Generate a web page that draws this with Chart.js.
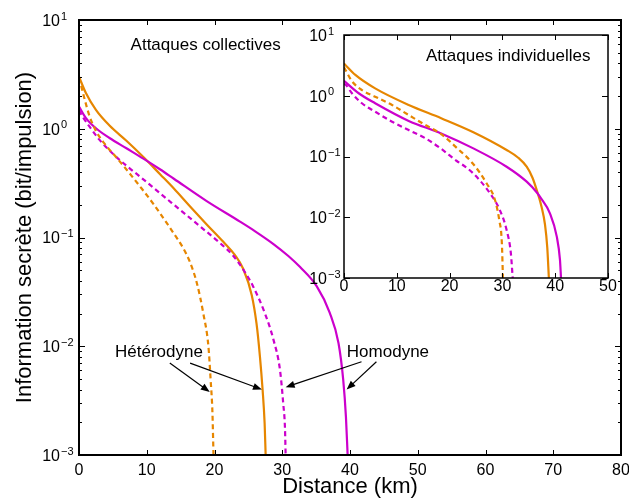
<!DOCTYPE html>
<html>
<head>
<meta charset="utf-8">
<script src="https://cdn.jsdelivr.net/npm/chart.js@4/dist/chart.umd.min.js"></script>
<style>
  html, body { margin: 0; padding: 0; background: #fff; }
  #wrap { position: relative; width: 629px; height: 501px; }
  #main { position: absolute; left: 0; top: 0; }
  #inset { position: absolute; left: 300px; top: 10px; }
</style>
</head>
<body>
<div id="wrap">
  <canvas id="main" width="629" height="501"></canvas>
  <canvas id="inset" width="320" height="290"></canvas>
</div>
<script>
// --- collective attacks (main plot), distance in km / secret info in bit per pulse
const collHetSolidX = [0, 1, 2.5, 4.5, 7, 9.5, 12, 14, 16.4, 18.85, 21.3, 23, 24.25, 25.5, 26.2, 26.7, 27.1, 27.4, 27.55];
const collHetSolidY = [3.01, 2.14, 1.49, 1.07, 0.776, 0.55, 0.38, 0.282, 0.193, 0.132, 0.0912, 0.0692, 0.0513, 0.0295, 0.0162, 0.00813, 0.00398, 0.00195, 0.001];
const collHetDashX = [0, 0.3, 0.79, 1.53, 2.5, 3.74, 5.46, 6.94, 9.25, 10.97, 12.45, 13.9, 15.4, 16.4, 17.4, 18.35, 19.1, 19.43, 19.7, 19.85];
const collHetDashY = [2.95, 2.51, 1.91, 1.32, 0.955, 0.733, 0.55, 0.427, 0.282, 0.204, 0.151, 0.111, 0.0794, 0.0589, 0.038, 0.02, 0.01, 0.0049, 0.0024, 0.001];
const collHomSolidX = [0, 1, 2.5, 4.5, 7, 9.5, 12, 14, 18.85, 23.76, 26, 28.7, 30.9, 32.6, 35.1, 37, 38.3, 39.0, 39.4, 39.65];
const collHomSolidY = [1.6, 1.26, 1.01, 0.822, 0.661, 0.531, 0.422, 0.347, 0.216, 0.14, 0.114, 0.0871, 0.0676, 0.0537, 0.0355, 0.0204, 0.0107, 0.0049, 0.00224, 0.001];
const collHomDashX = [0, 0.5, 1.53, 3, 5, 7, 9, 12, 14.9, 17.9, 20.8, 22.8, 24.5, 25.7, 27.45, 28.7, 29.67, 30.15, 30.4, 30.5];
const collHomDashY = [1.48, 1.3, 1.05, 0.794, 0.589, 0.457, 0.363, 0.254, 0.18, 0.126, 0.0891, 0.0676, 0.0479, 0.0355, 0.02, 0.0115, 0.00603, 0.00295, 0.00178, 0.001];

// --- individual attacks (inset)
const indHetSolidX = [0, 2.15, 5.9, 12.25, 18.4, 24.5, 30.8, 33, 34.6, 35.7, 36.6, 37.4, 38.07, 38.5, 38.8];
const indHetSolidY = [3.39, 2.2, 1.32, 0.705, 0.427, 0.251, 0.128, 0.0955, 0.0679, 0.0447, 0.0263, 0.0151, 0.00759, 0.00316, 0.001];
const indHetDashX = [0, 0.38, 1.5, 3.4, 5.9, 9.1, 12.25, 15.4, 18.4, 21.5, 24.35, 27.0, 28.6, 29.4, 29.9, 30.1];
const indHetDashY = [2.95, 2.57, 1.74, 1.24, 0.966, 0.705, 0.482, 0.33, 0.234, 0.135, 0.0776, 0.0362, 0.0192, 0.009, 0.00372, 0.001];
const indHomSolidX = [0, 2.78, 5.9, 12.25, 18.4, 24.5, 30.8, 34.6, 36.6, 37.1, 39.0, 40.3, 40.9, 41.1];
const indHomSolidY = [1.76, 1.1, 0.752, 0.385, 0.24, 0.136, 0.0679, 0.0385, 0.0251, 0.0218, 0.0116, 0.00479, 0.002, 0.001];
const indHomDashX = [0, 0.38, 1.5, 3.4, 5.9, 9.1, 12.25, 15.4, 18.3, 21.3, 23.0, 24.5, 27.65, 29.5, 30.8, 31.6, 31.95];
const indHomDashY = [1.58, 1.5, 1.1, 0.752, 0.547, 0.374, 0.273, 0.2, 0.136, 0.0851, 0.0676, 0.0525, 0.0248, 0.0132, 0.00617, 0.00257, 0.001];

// ticks
const mainXTicks = [0, 10, 20, 30, 40, 50, 60, 70, 80];
const insetXTicks = [0, 10, 20, 30, 40, 50];
const yDecades = [-3, -2, -1, 0, 1];

const ORANGE = 'rgb(230,134,0)';
const MAGENTA = 'rgb(204,0,204)';
const FONT = '"Liberation Sans", Arial, Helvetica, sans-serif';

const pts = (xs, ys) => xs.map((x, i) => ({ x: x, y: ys[i] }));

function series(xs, ys, color, dashed) {
  return {
    data: pts(xs, ys),
    borderColor: color,
    borderWidth: 2.2,
    borderDash: dashed ? [5, 3.5] : [],
    pointRadius: 0,
    fill: false,
    cubicInterpolationMode: 'monotone'
  };
}

function drawPow(ctx, e, xr, yc, size) {
  ctx.font = size + 'px ' + FONT;
  ctx.textAlign = 'right';
  ctx.textBaseline = 'middle';
  ctx.fillText('10', xr, yc);
  ctx.font = Math.round(size * 0.68) + 'px ' + FONT;
  ctx.textAlign = 'left';
  ctx.fillText(e < 0 ? '\u2212' + (-e) : String(e), xr + 1, yc - size * 0.3);
}

function arrow(ctx, x1, y1, x2, y2) {
  const ang = Math.atan2(y2 - y1, x2 - x1);
  const L = 9, W = 3.5;
  ctx.beginPath();
  ctx.moveTo(x1, y1);
  ctx.lineTo(x2 - L * Math.cos(ang) * 0.8, y2 - L * Math.sin(ang) * 0.8);
  ctx.stroke();
  ctx.beginPath();
  ctx.moveTo(x2, y2);
  ctx.lineTo(x2 - L * Math.cos(ang) + W * Math.sin(ang), y2 - L * Math.sin(ang) - W * Math.cos(ang));
  ctx.lineTo(x2 - L * Math.cos(ang) - W * Math.sin(ang), y2 - L * Math.sin(ang) + W * Math.cos(ang));
  ctx.closePath();
  ctx.fill();
}

// box, inward ticks and tick labels, drawn from the scales
const frame = {
  id: 'frame',
  beforeDraw(chart, args, o) {
    const { ctx, chartArea: a } = chart;
    ctx.save();
    ctx.fillStyle = '#fff';
    ctx.fillRect(a.left, a.top, a.right - a.left, a.bottom - a.top);
    ctx.restore();
  },
  afterDraw(chart, args, o) {
    const { ctx, chartArea: a, scales: { x, y } } = chart;
    ctx.save();
    ctx.strokeStyle = '#000';
    ctx.fillStyle = '#000';
    ctx.lineWidth = 1;
    ctx.beginPath();
    o.xTicks.forEach(v => {
      const px = Math.round(x.getPixelForValue(v)) + 0.5;
      ctx.moveTo(px, a.bottom); ctx.lineTo(px, a.bottom - o.major);
      ctx.moveTo(px, a.top); ctx.lineTo(px, a.top + o.major);
    });
    yDecades.forEach(d => {
      const ms = d < 1 && o.minor ? [1, 2, 3, 4, 5, 6, 7, 8, 9] : [1];
      ms.forEach(m => {
        const py = Math.round(y.getPixelForValue(m * Math.pow(10, d))) + 0.5;
        const len = m === 1 ? o.major + 1 : o.minor;
        ctx.moveTo(a.left, py); ctx.lineTo(a.left + len, py);
        ctx.moveTo(a.right, py); ctx.lineTo(a.right - len, py);
      });
    });
    ctx.stroke();
    ctx.lineWidth = o.lw;
    ctx.strokeRect(a.left, a.top, a.right - a.left, a.bottom - a.top);

    // tick labels
    ctx.font = o.size + 'px ' + FONT;
    ctx.textAlign = 'center';
    ctx.textBaseline = 'middle';
    o.xTicks.forEach(v => {
      ctx.fillText(String(v), x.getPixelForValue(v), a.bottom + o.xLabelGap);
    });
    yDecades.forEach(d => {
      drawPow(ctx, d, a.left - o.yLabelGap, y.getPixelForValue(Math.pow(10, d)) + 1.5, o.size);
    });

    // panel caption
    ctx.font = '17px ' + FONT;
    ctx.textAlign = 'center';
    ctx.fillText(o.caption.text, x.getPixelForValue(o.caption.x), y.getPixelForValue(o.caption.y));
    ctx.restore();
  }
};

// axis titles and arrow annotations of the main plot
const notes = [
  { text: 'Hétérodyne', x: 11.8, y: 0.0088 },
  { text: 'Homodyne', x: 45.6, y: 0.0088 }
];
const arrows = [
  { from: [13.4, 0.0070], to: [19.3, 0.0038] },
  { from: [16.4, 0.0070], to: [27.0, 0.0040] },
  { from: [41.7, 0.0072], to: [30.5, 0.0042] },
  { from: [43.9, 0.0072], to: [39.5, 0.0040] }
];

const extras = {
  id: 'extras',
  afterDraw(chart) {
    const { ctx, chartArea: a, scales: { x, y } } = chart;
    ctx.save();
    ctx.fillStyle = '#000';
    ctx.strokeStyle = '#000';
    ctx.font = '17px ' + FONT;
    ctx.textAlign = 'center';
    ctx.textBaseline = 'middle';
    notes.forEach(n => ctx.fillText(n.text, x.getPixelForValue(n.x), y.getPixelForValue(n.y)));
    ctx.lineWidth = 1.2;
    arrows.forEach(ar => {
      arrow(ctx,
        x.getPixelForValue(ar.from[0]), y.getPixelForValue(ar.from[1]),
        x.getPixelForValue(ar.to[0]), y.getPixelForValue(ar.to[1]));
    });
    ctx.font = '22px ' + FONT;
    ctx.fillText('Distance (km)', (a.left + a.right) / 2, 487);
    ctx.translate(25, (a.top + a.bottom) / 2);
    ctx.rotate(-Math.PI / 2);
    ctx.fillText('Information secrète (bit/impulsion)', 0, 0);
    ctx.restore();
  }
};

const hiddenAxis = {
  ticks: { display: false },
  grid: { display: false },
  border: { display: false }
};

new Chart(document.getElementById('main'), {
  type: 'line',
  data: {
    datasets: [
      series(collHetDashX, collHetDashY, ORANGE, true),
      series(collHomDashX, collHomDashY, MAGENTA, true),
      series(collHomSolidX, collHomSolidY, MAGENTA, false),
      series(collHetSolidX, collHetSolidY, ORANGE, false)
    ]
  },
  options: {
    responsive: false,
    animation: false,
    devicePixelRatio: 1,
    layout: { padding: { top: 20, right: 8, left: 0, bottom: 0 } },
    scales: {
      x: { type: 'linear', min: 0, max: 80, ...hiddenAxis, afterFit(s) { s.height = 46; } },
      y: { type: 'logarithmic', min: 0.001, max: 10, ...hiddenAxis, afterFit(s) { s.width = 79; } }
    },
    plugins: {
      legend: { display: false },
      tooltip: { enabled: false },
      frame: {
        xTicks: mainXTicks, major: 5, minor: 3, lw: 2, size: 16,
        xLabelGap: 16, yLabelGap: 19,
        caption: { text: 'Attaques collectives', x: 18.7, y: 5.9 }
      }
    }
  },
  plugins: [frame, extras]
});

new Chart(document.getElementById('inset'), {
  type: 'line',
  data: {
    datasets: [
      series(indHetDashX, indHetDashY, ORANGE, true),
      series(indHomDashX, indHomDashY, MAGENTA, true),
      series(indHomSolidX, indHomSolidY, MAGENTA, false),
      series(indHetSolidX, indHetSolidY, ORANGE, false)
    ]
  },
  options: {
    responsive: false,
    animation: false,
    devicePixelRatio: 1,
    layout: { padding: { top: 25, right: 12, left: 0, bottom: 0 } },
    scales: {
      x: { type: 'linear', min: 0, max: 50, ...hiddenAxis, afterFit(s) { s.height = 22; } },
      y: { type: 'logarithmic', min: 0.001, max: 10, ...hiddenAxis, afterFit(s) { s.width = 44; } }
    },
    plugins: {
      legend: { display: false },
      tooltip: { enabled: false },
      frame: {
        xTicks: insetXTicks, major: 5, minor: 0, lw: 1.5, size: 16,
        xLabelGap: 9, yLabelGap: 17,
        caption: { text: 'Attaques individuelles', x: 31.1, y: 4.5 }
      }
    }
  },
  plugins: [frame]
});
</script>
</body>
</html>
